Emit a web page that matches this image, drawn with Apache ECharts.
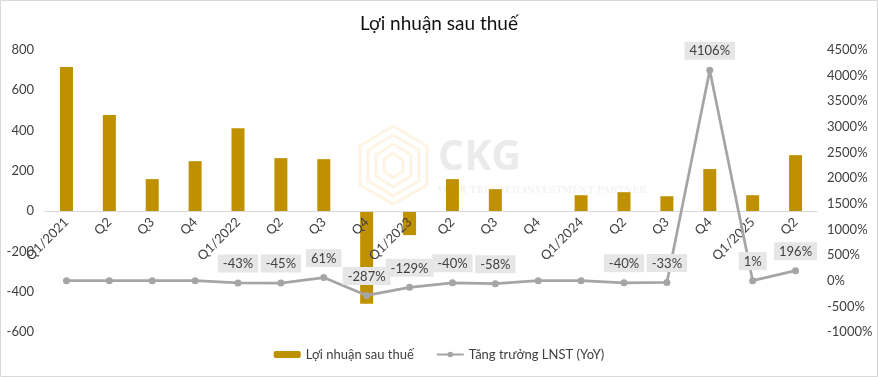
<!DOCTYPE html>
<html style="height: 100%">
<head>
    <meta charset="utf-8">
    <script type="text/javascript" src="https://cdn.jsdelivr.net/npm/echarts@6/dist/echarts.min.js"></script>
</head>
<body style="height: 100%; margin: 0; background: #fff">
<div id="container" style="height: 377px;width: 878px;position: absolute;top: 0;left:0px;"></div>
<script type="text/javascript">
    // du lieu doc tu hinh
    var quarters = ['Q1/2021','Q2','Q3','Q4','Q1/2022','Q2','Q3','Q4','Q1/2023','Q2','Q3','Q4','Q1/2024','Q2','Q3','Q4','Q1/2025','Q2'];
    var profit = [715, 477, 159, 248, 412, 263, 258, -460, -119, 159, 109, 0, 79, 94, 74, 209, 79, 278];
    // null = khong co so lieu (Excel ve nhu 0, khong co nhan)
    var growth = [null, null, null, null, -43, -45, 61, -287, -129, -40, -58, null, null, -40, -33, 4106, 1, 196];

    var dom = document.getElementById("container");
    var myChart = echarts.init(dom);

    var growthData = [];
    for (var i = 0; i < growth.length; i++) {
        if (growth[i] === null) {
            growthData.push({value: 0, label: {show: false}});
        } else {
            growthData.push({value: growth[i]});
        }
    }

    var txt = '#404040';
    var option = {
        textStyle: {fontFamily: 'Lato'},
        title: {
            text: 'Lợi nhuận sau thuế',
            left: 'center',
            top: 9,
            textStyle: {fontFamily: 'Lato', fontSize: 19, fontWeight: 'normal', color: '#111'}
        },
        legend: {
            bottom: 11,
            left: 'center',
            itemWidth: 27,
            itemHeight: 7,
            itemGap: 22,
            textStyle: {fontFamily: 'Lato', fontSize: 13, color: txt},
            data: ['Lợi nhuận sau thuế', 'Tăng trưởng LNST (YoY)']
        },
        grid: {left: 45, right: 61, top: 50, bottom: 45, containLabel: false, outerBoundsMode: 'none'},
        xAxis: {
            type: 'category',
            data: quarters,
            position: 'bottom',
            offset: -121,   // truc hoanh nam o muc 0 cua truc trai
            z: 5,
            axisLine: {onZero: false, lineStyle: {color: '#d9d9d9', width: 1}},
            axisTick: {show: false},
            axisLabel: {interval: 0, rotate: 45, margin: 9, color: txt, fontSize: 13, fontFamily: 'Lato'}
        },
        yAxis: [
            {
                type: 'value',
                min: -600, max: 800, interval: 200,
                splitLine: {show: false},
                axisLine: {show: false},
                axisLabel: {color: txt, fontSize: 13, margin: 11, fontFamily: 'Lato'}
            },
            {
                type: 'value',
                min: -1000, max: 4500, interval: 500,
                splitLine: {show: false},
                axisLine: {show: false},
                axisLabel: {color: txt, fontSize: 13, margin: 10, fontFamily: 'Lato',
                    formatter: function (v) { return v + '%'; }}
            }
        ],
        graphic: [
            {type: 'rect', shape: {x: 0.5, y: 0.5, width: 877, height: 376}, style: {fill: 'none', stroke: '#d9d9d9'}, silent: true},
            {type: 'polyline', z: -1, shape: {points: [[393,126],[427,146],[427,185],[393,204],[360,185],[360,146],[393,126]]}, style: {fill: 'none', stroke: '#fdf4e3', lineWidth: 3}},
            {type: 'polyline', z: -1, shape: {points: [[393,135],[419,150],[419,181],[393,196],[368,181],[368,150],[393,135]]}, style: {fill: 'none', stroke: '#fdf4e3', lineWidth: 3}},
            {type: 'polyline', z: -1, shape: {points: [[393,144],[411,155],[411,176],[393,187],[376,176],[376,155],[393,144]]}, style: {fill: 'none', stroke: '#fdf4e3', lineWidth: 3}},
            {type: 'polyline', z: -1, shape: {points: [[393,153],[403,160],[403,171],[393,178],[384,171],[384,160],[393,153]]}, style: {fill: 'none', stroke: '#fdf4e3', lineWidth: 3}},
            {type: 'text', z: -1, left: 438, top: 138, style: {text: 'CKG', fill: '#ebebeb', fontSize: 41, fontWeight: 'bold', fontFamily: 'Open Sans'}},
            {type: 'text', z: -1, left: 437, top: 186, style: {text: 'YOUR TRUSTED INVESTMENT PARTNER', fill: '#f3f3f3', fontSize: 9, fontWeight: 'bold', fontFamily: 'DejaVu Serif'}}
        ],
        series: [
            {
                name: 'Lợi nhuận sau thuế',
                type: 'bar',
                yAxisIndex: 0,
                barWidth: 13,
                itemStyle: {color: '#bf9000'},
                data: profit
            },
            {
                name: 'Tăng trưởng LNST (YoY)',
                type: 'line',
                yAxisIndex: 1,
                z: 6,
                symbol: 'circle',
                symbolSize: 7,
                itemStyle: {color: '#a5a5a5'},
                lineStyle: {color: '#a5a5a5', width: 2.75},
                label: {
                    show: true,
                    position: 'top',
                    distance: 7,
                    formatter: '{c}%',
                    color: txt,
                    fontSize: 13,
                    fontFamily: 'Lato',
                    backgroundColor: '#e7e6e6',
                    padding: [3, 5, 2, 5]
                },
                data: growthData
            }
        ]
    };
    myChart.setOption(option, true);
</script>
</body>
</html>
